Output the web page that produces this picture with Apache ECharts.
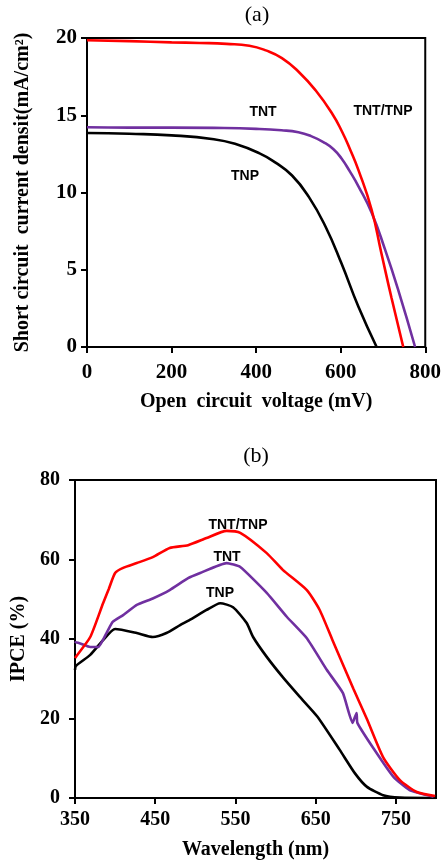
<!DOCTYPE html>
<html><head><meta charset="utf-8">
<script src="https://cdn.jsdelivr.net/npm/echarts@6/dist/echarts.min.js"></script>
<style>html,body{margin:0;padding:0;background:#fff}#c{width:444px;height:863px}</style>
</head><body><div id="c"></div>
<script>
// (a) J-V curves
const jvV_TNTTNP = [0,100,200,266,330,384,423,461,501,541,580,603,622,642,673,696,720,748];
const jvJ_TNTTNP = [19.85,19.8,19.72,19.68,19.62,19.5,19.2,18.7,17.8,16.6,15.1,13.95,12.8,11.45,8.9,6.1,3.2,0];
const jvV_TNT = [0,100,200,300,400,460,500,530,560,583,602,622,642,673,705,736,776];
const jvJ_TNT = [14.22,14.2,14.2,14.18,14.12,14.03,13.9,13.65,13.25,12.8,12.2,11.35,10.4,8.7,6.3,3.7,0];
const jvV_TNP = [0,100,200,300,350,407,445,485,525,564,602,642,685];
const jvJ_TNP = [13.85,13.8,13.7,13.45,13.15,12.55,11.95,11.1,9.7,7.8,5.4,2.6,0];
const xTicksA = [0,200,400,600,800];
const yTicksA = [0,5,10,15,20];

// (b) IPCE curves
const wl_TNTTNP = [350,351,369,385,392,400,410,427,447,468,491,514,539,556,589,609,639,655,671,697,714,734,755,776,799];
const ipce_TNTTNP = [35.2,35.5,40.5,49,52.5,56.6,57.9,59.1,60.6,62.9,63.6,65.4,67.2,66.7,61.6,57.4,52.3,47.3,39.7,27.5,19.8,10.3,4.5,1.5,0.5];
const wl_TNT = [350,351,369,379,390,397,410,427,447,468,491,506,539,556,589,614,639,664,684,696,701,702,722,747,767,797];
const ipce_TNT = [39,39.2,38,38,41.8,44.3,46,48.6,50.2,52.3,55.3,56.6,59.1,58.1,51.6,45.6,40.2,32.2,26.4,18.9,21.4,18.9,12.5,5.3,2,0.3];
const wl_TNP = [350,351,369,385,400,427,447,464,481,493,514,531,547,564,572,589,609,630,652,680,699,714,734,755,800];
const ipce_TNP = [32.2,33.2,36,39.7,42.5,41.5,40.5,41.5,43.5,44.8,47.3,49,48,44,40.5,35.5,30.4,25.5,20.5,12.1,6.2,2.8,0.7,0.1,0];

const pairs = (xs, ys) => xs.map((x, i) => [x, ys[i]]);
const RED = '#ff0000', PURPLE = '#7030a0', BLACK = '#000000';
const serif = '"Liberation Serif", "Times New Roman", serif';
const sans = '"Liberation Sans", Arial, sans-serif';

const chart = echarts.init(document.getElementById('c'), null, {renderer: 'canvas'});

const axisCommon = {
  axisLine: {show: true, lineStyle: {color: '#000', width: 2}},
  axisTick: {show: true, length: 6, lineStyle: {color: '#000', width: 2}},
  splitLine: {show: false},
  axisLabel: {color: '#000', fontFamily: serif, fontWeight: 'bold', fontSize: 20},
  nameTextStyle: {color: '#000', fontFamily: serif, fontWeight: 'bold', fontSize: 20},
  nameLocation: 'middle'
};
const lbl = (o) => Object.assign({}, axisCommon.axisLabel, o);

function lineSeries(name, data, color, xi, smooth) {
  return {type: 'line', name, data, xAxisIndex: xi, yAxisIndex: xi, showSymbol: false,
    smooth: smooth, lineStyle: {color, width: 2.6}, itemStyle: {color}, silent: true, animation: false};
}

const option = {
  animation: false,
  backgroundColor: '#fff',
  grid: [
    {left: 87, right: 17, top: 38, bottom: 516, show: true, borderColor: '#000', borderWidth: 2, backgroundColor: 'transparent'},
    {left: 75, right: 8, top: 480, bottom: 65, show: true, borderColor: '#000', borderWidth: 2, backgroundColor: 'transparent'}
  ],
  xAxis: [
    Object.assign({}, axisCommon, {gridIndex: 0, type: 'value', min: xTicksA[0], max: xTicksA[xTicksA.length-1], interval: 200,
      name: 'Open  circuit  voltage (mV)', nameGap: 45,
      axisLabel: lbl({margin: 15, fontSize: 21})}),
    Object.assign({}, axisCommon, {gridIndex: 1, type: 'value', min: 350, max: 800, interval: 100,
      name: 'Wavelength (nm)', nameGap: 42,
      axisLabel: lbl({margin: 12, fontSize: 20, showMaxLabel: false,
        formatter: v => (v === 800 ? '' : String(v))})})
  ],
  yAxis: [
    Object.assign({}, axisCommon, {gridIndex: 0, type: 'value', min: yTicksA[0], max: yTicksA[yTicksA.length-1], interval: 5,
      name: 'Short circuit  current densit(mA/cm²)', nameGap: 54,
      axisLabel: lbl({margin: 10, fontSize: 21})}),
    Object.assign({}, axisCommon, {gridIndex: 1, type: 'value', min: 0, max: 80, interval: 20,
      name: 'IPCE (%)', nameGap: 46,
      axisLabel: lbl({margin: 15, fontSize: 20})})
  ],
  series: [
    lineSeries('TNP', pairs(jvV_TNP, jvJ_TNP), BLACK, 0, 0.5),
    lineSeries('TNT', pairs(jvV_TNT, jvJ_TNT), PURPLE, 0, 0.5),
    lineSeries('TNT/TNP', pairs(jvV_TNTTNP, jvJ_TNTTNP), RED, 0, 0.5),
    lineSeries('TNP', pairs(wl_TNP, ipce_TNP), BLACK, 1, 0.2),
    lineSeries('TNT', pairs(wl_TNT, ipce_TNT), PURPLE, 1, 0.15),
    lineSeries('TNT/TNP', pairs(wl_TNTTNP, ipce_TNTTNP), RED, 1, 0.2)
  ],
  graphic: [
    {type: 'text', x: 257, y: 15, style: {text: '(a)', font: '22px ' + serif, fill: '#000', align: 'center', verticalAlign: 'middle'}},
    {type: 'text', x: 256, y: 456, style: {text: '(b)', font: '22px ' + serif, fill: '#000', align: 'center', verticalAlign: 'middle'}},
    {type: 'text', x: 263, y: 112, style: {text: 'TNT', font: 'bold 14px ' + sans, fill: '#000', align: 'center', verticalAlign: 'middle'}},
    {type: 'text', x: 383, y: 111, style: {text: 'TNT/TNP', font: 'bold 14px ' + sans, fill: '#000', align: 'center', verticalAlign: 'middle'}},
    {type: 'text', x: 245, y: 176, style: {text: 'TNP', font: 'bold 14px ' + sans, fill: '#000', align: 'center', verticalAlign: 'middle'}},
    {type: 'text', x: 238, y: 525, style: {text: 'TNT/TNP', font: 'bold 14px ' + sans, fill: '#000', align: 'center', verticalAlign: 'middle'}},
    {type: 'text', x: 227, y: 557, style: {text: 'TNT', font: 'bold 14px ' + sans, fill: '#000', align: 'center', verticalAlign: 'middle'}},
    {type: 'text', x: 220, y: 593, style: {text: 'TNP', font: 'bold 14px ' + sans, fill: '#000', align: 'center', verticalAlign: 'middle'}}
  ]
};
chart.setOption(option);
</script>
</body></html>
